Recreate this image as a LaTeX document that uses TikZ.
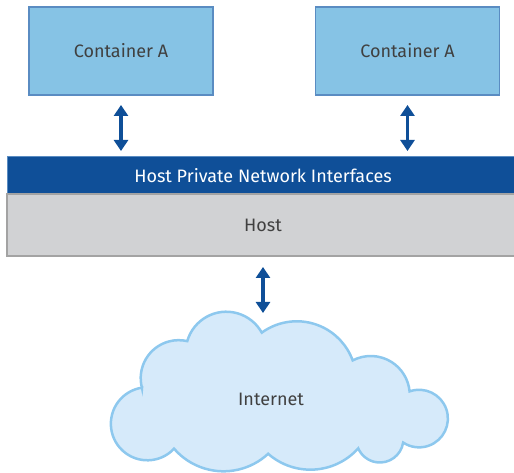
\documentclass[tikz,border=0pt]{standalone}
\usepackage{fontspec}
\setmainfont{Fira Sans}
\usetikzlibrary{arrows.meta}
\definecolor{ctrfill}{HTML}{86C3E5}
\definecolor{ctrline}{HTML}{5A8CC2}
\definecolor{darkblue}{HTML}{0F4F98}
\definecolor{hostgray}{HTML}{D1D2D4}
\definecolor{hostline}{HTML}{A3A3A3}
\definecolor{cloudfill}{HTML}{D6EAFA}
\definecolor{cloudline}{HTML}{8DC8EE}
\definecolor{txt}{HTML}{404040}
\begin{document}
\begin{tikzpicture}[x=1pt,y=1pt,
    ctr/.style={draw=ctrline,fill=ctrfill,line width=1.5pt,minimum width=184pt,minimum height=88pt,inner sep=0pt,outer sep=0pt,text=txt,font=\fontsize{18}{21}\selectfont},
    band/.style={minimum width=512pt,inner sep=0pt,outer sep=0pt,font=\fontsize{18}{21}\selectfont},
    dblarrow/.style={darkblue,line width=3.5pt,{Triangle[width=14pt,length=11pt]}-{Triangle[width=14pt,length=11pt]}}]
      \clip (0,0) rectangle (514,473);
      \node [ctr] (ctrA) at (121,422) {Container A};
      \node [ctr] (ctrB) at (407.5,422) {Container A};
      \node [band,fill=darkblue,draw=ctrline,line width=1pt,minimum height=37pt,text=white] (netif) at (263,297.5) {Host Private Network Interfaces};
      \node [band,fill=hostgray,draw=hostline,line width=1.5pt,minimum height=62pt,text=txt] (host) at (263,248) {Host};
      \draw [cloudline,fill=cloudfill,line width=2.5pt] (142,85) arc [start angle=195,end angle=77,radius=38] arc [start angle=164,end angle=29,radius=40.6] arc [start angle=126,end angle=20,radius=59.5] arc [start angle=117.6,end angle=5.3,radius=39] arc [start angle=109.3,end angle=-123.6,radius=28.8] arc [start angle=-8.9,end angle=-156.4,radius=23.6] arc [start angle=-41.9,end angle=-131.2,radius=64.2] arc [start angle=-47.1,end angle=-139.1,radius=65.5] arc [start angle=-43,end angle=-261.6,radius=36.5] -- cycle;
      \node [text=txt,font=\fontsize{18}{21}\selectfont] (inet) at (271,74) {Internet};
      \coordinate (cloudtop) at (263,160);
      \draw [dblarrow,shorten <=10pt,shorten >=6pt] (ctrA.south) -- (ctrA.south |- netif.north);
      \draw [dblarrow,shorten <=10pt,shorten >=6pt] (ctrB.south) -- (ctrB.south |- netif.north);
      \draw [dblarrow,shorten <=11pt] (host.south) -- (cloudtop);
    \end{tikzpicture}
\end{document}
